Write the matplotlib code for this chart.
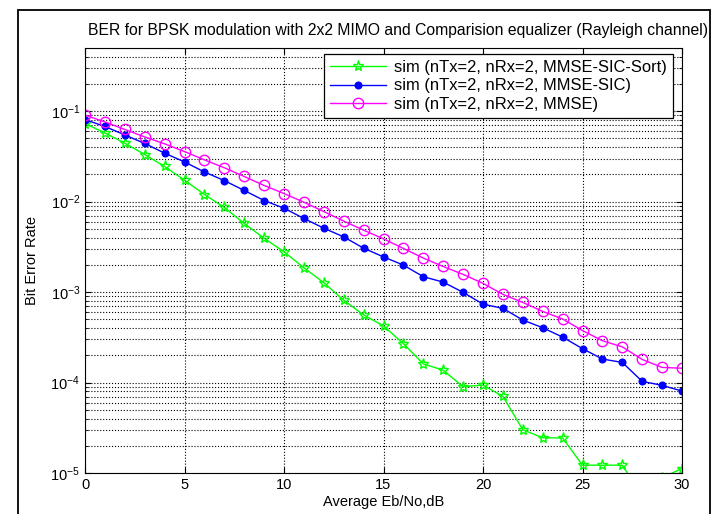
import numpy as np
import matplotlib.pyplot as plt
from matplotlib.patches import Rectangle

plt.rcParams['font.family'] = ['Liberation Sans', 'DejaVu Sans']

# Eb/No in dB
ebno_db = list(range(0, 31))

# simulated BER
ber_mmse = [0.0904, 0.0762, 0.0628, 0.0520, 0.0436, 0.0358, 0.0290, 0.0237,
            0.0190, 0.0151, 0.0123, 0.00986, 0.00778, 0.00610, 0.00484,
            0.00388, 0.00304, 0.00238, 0.00192, 0.00157, 0.00125, 0.000944,
            0.000769, 0.000612, 0.000504, 0.000376, 0.000290, 0.000248,
            0.000180, 0.000147, 0.000144]
ber_sic = [0.0809, 0.0678, 0.0547, 0.0440, 0.0344, 0.0275, 0.0213, 0.0171,
           0.0133, 0.0103, 0.00847, 0.00652, 0.00509, 0.00408, 0.00306,
           0.00245, 0.00199, 0.00148, 0.00129, 0.000993, 0.000736, 0.000661,
           0.000491, 0.000404, 0.000318, 0.000237, 0.000182, 0.000167,
           0.000103, 0.0000931, 0.0000805]
ber_sic_sort = [0.0731, 0.0575, 0.0443, 0.0332, 0.0245, 0.0173, 0.0120,
                0.00863, 0.00574, 0.00394, 0.00279, 0.00186, 0.00127,
                0.000813, 0.000560, 0.000423, 0.000269, 0.000161, 0.000137,
                0.0000899, 0.0000938, 0.0000703, 0.0000301, 0.0000245,
                0.0000244, 0.0000122, 0.0000122, 0.0000122, 0.0000056,
                0.0000089, 0.0000112]

labels = ['sim (nTx=2, nRx=2, MMSE-SIC-Sort)',
          'sim (nTx=2, nRx=2, MMSE-SIC)',
          'sim (nTx=2, nRx=2, MMSE)']

W, H = 717, 514
fig = plt.figure(figsize=(W / 100, H / 100), dpi=100)
ax = fig.add_axes([85 / W, 1 - 473 / H, (682 - 85) / W, (473 - 48) / H])

ax.semilogy(ebno_db, ber_sic_sort, color='#00ff00', lw=1, marker='*',
            ms=8, mfc='none', mew=1, label=labels[0])
ax.semilogy(ebno_db, ber_sic, color='#0000ff', lw=1, marker='o',
            ms=4.8, mfc='#0000ff', mec='#0000ff', label=labels[1])
ax.semilogy(ebno_db, ber_mmse, color='#ff00ff', lw=1, marker='o',
            ms=7.5, mfc='none', mew=1, label=labels[2])

ax.set_xlim(0, 30)
ax.set_ylim(1e-5, 0.5)
ax.set_xticks([0, 5, 10, 15, 20, 25, 30])
ax.grid(True, which='major', ls=':', color='black', lw=0.8)
ax.grid(True, which='minor', axis='y', ls=':', color='black', lw=0.8)
ax.tick_params(which='both', direction='in', top=True, right=True,
               labelsize=10.5)
ax.tick_params(which='major', length=4)
ax.tick_params(which='minor', length=2)
for s in ax.spines.values():
    s.set_linewidth(0.8)

fig.text(398 / W, 1 - 31 / H,
         'BER for BPSK modulation with 2x2 MIMO and Comparision equalizer (Rayleigh channel)',
         fontsize=11.3, ha='center', va='center')
ax.set_xlabel('Average Eb/No,dB', fontsize=10.5, labelpad=2)
ax.set_ylabel('Bit Error Rate', fontsize=10.5, labelpad=8)

leg = ax.legend(loc='upper right', bbox_to_anchor=(673 / W, 1 - 54 / H),
                bbox_transform=fig.transFigure, borderaxespad=0,
                fontsize=11.9, fancybox=False, framealpha=1,
                edgecolor='black', handlelength=3.4, handletextpad=0.5,
                borderpad=0.35, labelspacing=0.22)
leg.get_frame().set_linewidth(0.9)

# document frame around the figure
fig.patches.append(Rectangle((18 / W, -0.02), (710 - 18) / W, 1 - 10 / H + 0.02,
                             transform=fig.transFigure, fill=False,
                             edgecolor='black', lw=1.3))

fig.savefig('out.png', dpi=100)
